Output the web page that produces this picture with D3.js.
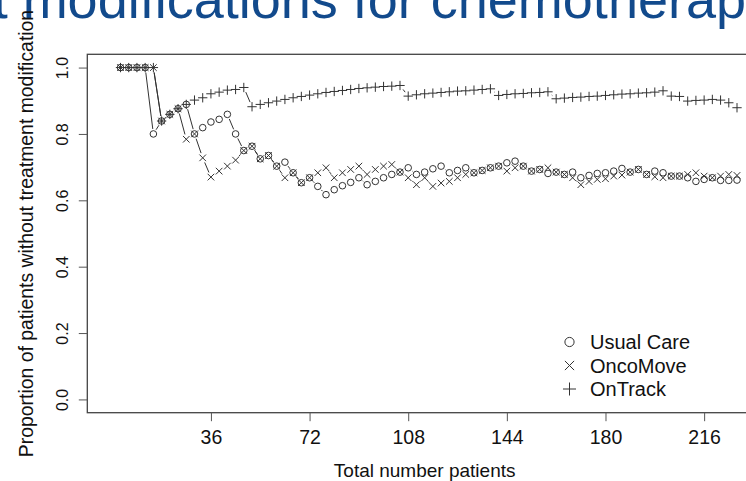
<!DOCTYPE html>
<html lang="en">
<head>
    <meta charset="UTF-8">
    <title>Treatment modifications for chemotherapy</title>
    <script src="https://d3js.org/d3.v7.min.js"></script>
    <style>
        body {
            margin: 0;
            background: #fff;
            font-family: Arial, "Liberation Sans", sans-serif;
        }
        svg {
            display: block;
        }
        .tick line {
            stroke: #555;
        }
    </style>
</head>
<body>
    <div id="chart"></div>
    <script>
        // total number of patients (one point every 3 patients)
        const patients = [3, 6, 9, 12, 15, 18, 21, 24, 27, 30, 33, 36, 39, 42, 45, 48, 51, 54, 57, 60,
            63, 66, 69, 72, 75, 78, 81, 84, 87, 90, 93, 96, 99, 102, 105, 108, 111, 114, 117, 120,
            123, 126, 129, 132, 135, 138, 141, 144, 147, 150, 153, 156, 159, 162, 165, 168, 171, 174, 177, 180,
            183, 186, 189, 192, 195, 198, 201, 204, 207, 210, 213, 216, 219, 222, 225, 228];

        const usualCare = [1.0, 1.0, 1.0, 1.0, 0.80, 0.839, 0.859, 0.876, 0.889, 0.80,
            0.819, 0.836, 0.844, 0.859, 0.80, 0.75, 0.763, 0.725, 0.735, 0.703,
            0.715, 0.683, 0.653, 0.668, 0.642, 0.617, 0.632, 0.644, 0.654, 0.668,
            0.647, 0.657, 0.668, 0.678, 0.685, 0.698, 0.678, 0.685, 0.695, 0.703,
            0.683, 0.690, 0.698, 0.683, 0.690, 0.698, 0.703, 0.713, 0.718, 0.703,
            0.688, 0.693, 0.681, 0.685, 0.678, 0.685, 0.668, 0.675, 0.681, 0.683,
            0.688, 0.696, 0.685, 0.693, 0.678, 0.688, 0.683, 0.673, 0.673, 0.668,
            0.657, 0.663, 0.668, 0.660, 0.660, 0.661];

        const oncoMove = [1.0, 1.0, 1.0, 1.0, 1.0, 0.839, 0.859, 0.876, 0.784, 0.80,
            0.728, 0.670, 0.688, 0.703, 0.721, 0.75, 0.763, 0.725, 0.735, 0.703,
            0.668, 0.683, 0.653, 0.668, 0.683, 0.698, 0.668, 0.683, 0.693, 0.703,
            0.678, 0.693, 0.703, 0.708, 0.685, 0.668, 0.647, 0.668, 0.642, 0.652,
            0.657, 0.668, 0.678, 0.683, 0.690, 0.698, 0.703, 0.688, 0.698, 0.703,
            0.688, 0.693, 0.698, 0.685, 0.678, 0.668, 0.647, 0.657, 0.663, 0.665,
            0.673, 0.676, 0.685, 0.693, 0.678, 0.671, 0.668, 0.673, 0.673, 0.678,
            0.683, 0.673, 0.668, 0.673, 0.678, 0.675];

        const onTrack = [1.0, 1.0, 1.0, 1.0, 1.0, 0.839, 0.859, 0.876, 0.889, 0.902,
            0.909, 0.921, 0.926, 0.932, 0.934, 0.940, 0.882, 0.889, 0.894, 0.899,
            0.904, 0.909, 0.913, 0.917, 0.921, 0.925, 0.928, 0.931, 0.934, 0.937,
            0.939, 0.941, 0.943, 0.944, 0.946, 0.914, 0.918, 0.921, 0.923, 0.925,
            0.927, 0.929, 0.930, 0.932, 0.934, 0.936, 0.916, 0.919, 0.921, 0.922,
            0.924, 0.925, 0.927, 0.906, 0.908, 0.910, 0.911, 0.913, 0.914, 0.916,
            0.918, 0.920, 0.921, 0.923, 0.924, 0.926, 0.930, 0.914, 0.913, 0.899,
            0.901, 0.902, 0.904, 0.902, 0.894, 0.879];

        const seriesNames = ["Usual Care", "OncoMove", "OnTrack"];
        const seriesSymbols = ["circle", "cross", "plus"];
        const xTicks = [36, 72, 108, 144, 180, 216];
        const yTicks = [0, 0.2, 0.4, 0.6, 0.8, 1.0];

        const width = 746;
        const height = 481;
        const plot = { left: 87.3, right: 762, top: 54.3, bottom: 412.7 };
        const ink = "#333";

        const svg = d3.select("#chart")
            .append("svg")
            .attr("width", width)
            .attr("height", height);

        // R style 4% padding on both axes
        const x = d3.scaleLinear().domain([-9.12, 237.12]).range([plot.left, plot.right]);
        const y = d3.scaleLinear().domain([-0.04, 1.04]).range([plot.bottom, plot.top]);

        // slide title, cut off at the top of the screenshot
        svg.append("text")
            .attr("x", 773)
            .attr("y", 18)
            .attr("text-anchor", "end")
            .style("font-size", "54px")
            .style("fill", "#124a8c")
            .text("Treatment modifications for chemotherapy");

        // box
        svg.append("rect")
            .attr("x", plot.left)
            .attr("y", plot.top)
            .attr("width", plot.right - plot.left)
            .attr("height", plot.bottom - plot.top)
            .attr("fill", "none")
            .attr("stroke", "#444")
            .attr("stroke-width", 1.3);

        // x axis
        const xAxis = svg.append("g")
            .attr("transform", `translate(0,${plot.bottom})`)
            .call(d3.axisBottom(x).tickValues(xTicks).tickSize(8.5).tickPadding(8));
        xAxis.select(".domain").remove();
        xAxis.selectAll("text")
            .attr("dy", null)
            .attr("y", 31.5)
            .style("font-size", "19.5px")
            .style("font-family", "Arial, 'Liberation Sans', sans-serif")
            .style("fill", "#111");

        // y axis, labels rotated as in base R
        const yAxis = svg.append("g")
            .attr("transform", `translate(${plot.left},0)`)
            .call(d3.axisLeft(y).tickValues(yTicks).tickSize(8.5).tickFormat(d3.format(".1f")));
        yAxis.select(".domain").remove();
        yAxis.selectAll("text")
            .attr("x", null)
            .attr("dy", null)
            .attr("text-anchor", "middle")
            .attr("transform", "translate(-19.5,0) rotate(-90)")
            .style("font-size", "16px")
            .style("font-family", "Arial, 'Liberation Sans', sans-serif")
            .style("fill", "#111");

        // axis titles
        svg.append("text")
            .attr("x", (plot.left + plot.right) / 2)
            .attr("y", 477)
            .attr("text-anchor", "middle")
            .style("font-size", "19px")
            .style("fill", "#111")
            .text("Total number patients");

        svg.append("text")
            .attr("transform", `translate(33,${(plot.top + plot.bottom) / 2}) rotate(-90)`)
            .attr("text-anchor", "middle")
            .style("font-size", "19.4px")
            .style("fill", "#111")
            .text("Proportion of patients without treatment modification");

        function drawSymbol(g, type, cx, cy, r) {
            if (type === "circle") {
                g.append("circle")
                    .attr("cx", cx).attr("cy", cy).attr("r", r)
                    .attr("fill", "none").attr("stroke", ink).attr("stroke-width", 1);
            } else if (type === "cross") {
                g.append("path")
                    .attr("d", `M${cx - r},${cy - r}L${cx + r},${cy + r}M${cx - r},${cy + r}L${cx + r},${cy - r}`)
                    .attr("fill", "none").attr("stroke", ink).attr("stroke-width", 1);
            } else {
                const p = r * Math.SQRT2;
                g.append("path")
                    .attr("d", `M${cx - p},${cy}L${cx + p},${cy}M${cx},${cy - p}L${cx},${cy + p}`)
                    .attr("fill", "none").attr("stroke", ink).attr("stroke-width", 1);
            }
        }

        // type = "b": segments between points, with a gap around each point
        const gap = 5;
        const series = [usualCare, oncoMove, onTrack];

        series.forEach((values, si) => {
            const g = svg.append("g").attr("class", "series");
            const pts = values.map((v, i) => [x(patients[i]), y(v)]);

            for (let i = 1; i < pts.length; i++) {
                const [x0, y0] = pts[i - 1];
                const [x1, y1] = pts[i];
                const len = Math.hypot(x1 - x0, y1 - y0);
                if (len <= 2 * gap) continue;
                const ux = (x1 - x0) / len, uy = (y1 - y0) / len;
                g.append("line")
                    .attr("x1", x0 + ux * gap).attr("y1", y0 + uy * gap)
                    .attr("x2", x1 - ux * gap).attr("y2", y1 - uy * gap)
                    .attr("stroke", ink)
                    .attr("stroke-width", 1);
            }

            pts.forEach(([px, py]) => drawSymbol(g, seriesSymbols[si], px, py, 3.3));
        });

        // legend
        const legend = svg.append("g").attr("class", "legend");
        seriesNames.forEach((name, i) => {
            const ly = 342 + i * 23.5;
            drawSymbol(legend, seriesSymbols[i], 569.5, ly, 4.6);
            legend.append("text")
                .attr("x", 590)
                .attr("y", ly + 7.3)
                .style("font-size", "20px")
                .style("fill", "#111")
                .text(name);
        });
    </script>
</body>
</html>
